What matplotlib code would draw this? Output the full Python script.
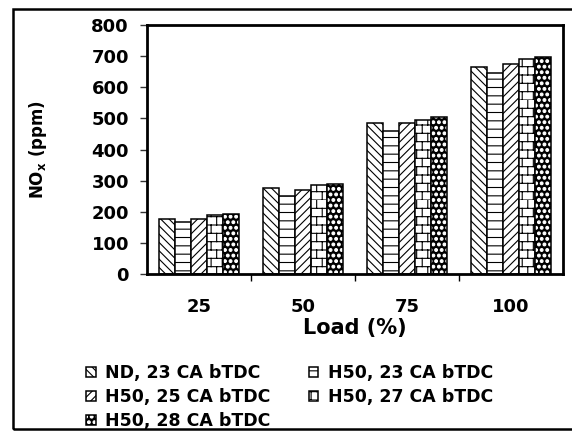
import warnings
import numpy as np
import matplotlib
matplotlib.use("Agg")
import matplotlib.pyplot as plt
import matplotlib.hatch as mhatch
from matplotlib.path import Path
from matplotlib.patches import Rectangle
from matplotlib.legend_handler import HandlerTuple

# custom hatch letters ('b' bricks, 'd' big dots) are not in the built-in set
warnings.filterwarnings("ignore", category=matplotlib.MatplotlibDeprecationWarning)

# NOx emission vs engine load
loads = ['25', '50', '75', '100']
series_names = ['ND, 23 CA bTDC', 'H50, 23 CA bTDC', 'H50, 25 CA bTDC',
                'H50, 27 CA bTDC', 'H50, 28 CA bTDC']
nd_23 = [176, 276, 485, 665]
h50_23 = [166, 252, 461, 645]
h50_25 = [176, 271, 485, 675]
h50_27 = [189, 286, 495, 690]
h50_28 = [192, 290, 504, 698]
yticks = [0, 100, 200, 300, 400, 500, 600, 700, 800]


class BrickHatch(mhatch.HatchPatternBase):
    """'b': brick wall, horizontal courses with staggered joints."""
    def __init__(self, hatch, density):
        self.rows = hatch.count('b') * density
        self.cols = max(1, self.rows * 3 // 4)
        self.num_vertices = 2 * (self.rows + self.rows * self.cols)

    def set_vertices_and_codes(self, vertices, codes):
        k = 0
        for i in range(self.rows):
            y0 = i / self.rows
            y1 = (i + 1) / self.rows
            vertices[k] = (0.0, y0)
            vertices[k + 1] = (1.0, y0)
            k += 2
            shift = 0.5 * (i % 2)
            for j in range(self.cols):
                x = (j + shift) / self.cols
                vertices[k] = (x, y0)
                vertices[k + 1] = (x, y1)
                k += 2
        codes[0::2] = Path.MOVETO
        codes[1::2] = Path.LINETO


class BigDotHatch(mhatch.Circles):
    """'d': filled dots, larger than '.'."""
    size = 0.25
    filled = True

    def __init__(self, hatch, density):
        self.num_rows = hatch.count('d') * density
        super().__init__(hatch, density)


mhatch._hatch_types.extend([BrickHatch, BigDotHatch])

plt.rcParams['font.family'] = 'DejaVu Sans'
plt.rcParams['font.weight'] = 'bold'
plt.rcParams['axes.labelweight'] = 'bold'
plt.rcParams['mathtext.default'] = 'bf'
plt.rcParams['hatch.linewidth'] = 0.8

fig = plt.figure(figsize=(5.72, 4.32), dpi=100)
ax = fig.add_axes([147 / 572, 1 - 274 / 432, 416 / 572, 249 / 432])

x = np.arange(len(loads))
w = 0.155
data = [nd_23, h50_23, h50_25, h50_27, h50_28]
hatches = ['\\\\\\\\', '--', '////', 'bb', 'ddd']
faces = ['white', 'white', 'white', 'white', 'black']
hatch_cols = ['black', 'black', 'black', 'black', 'white']
handles = []
for i, vals in enumerate(data):
    pos = x + (i - 2) * w
    # hatched fill first, black outline drawn over it
    fill = ax.bar(pos, vals, w, color=faces[i], edgecolor=hatch_cols[i],
                  hatch=hatches[i], linewidth=0)
    edge = ax.bar(pos, vals, w, fill=False, edgecolor='black', linewidth=1.1)
    handles.append((fill.patches[0], edge.patches[0]))

ax.set_xlim(-0.5, len(loads) - 0.5)
ax.set_ylim(0, 800)
ax.set_yticks(yticks)
ax.set_xticks(x)
ax.set_xticklabels(loads)
ax.set_xticks(x[:-1] + 0.5, minor=True)
ax.tick_params(axis='x', which='major', length=0, pad=17, labelsize=13)
ax.tick_params(axis='x', which='minor', length=5, width=1, direction='out')
ax.tick_params(axis='y', length=5, width=1, pad=8, labelsize=13, color='#333333')
for s in ax.spines.values():
    s.set_linewidth(2)

ax.set_xlabel('Load (%)', fontsize=15, labelpad=2)
ax.set_ylabel(r'NO$_{x}$ (ppm)', fontsize=12)
ax.yaxis.set_label_coords(-0.235, 0.5)

# legend laid out row by row in two columns; each swatch is fill + outline
order = [0, 2, 4, 1, 3]
fig.legend([handles[i] for i in order], [series_names[i] for i in order],
           handler_map={tuple: HandlerTuple(ndivide=1, pad=0)},
           loc='upper left', bbox_to_anchor=(86 / 572, 1 - 364 / 432),
           ncol=2, frameon=False, fontsize=12.5, borderpad=0,
           borderaxespad=0, handlelength=0.55, handleheight=0.55,
           handletextpad=0.55, columnspacing=2.2, labelspacing=0.35)

fig.patches.append(Rectangle((13 / 572, 3 / 432), 1.0, 1 - 12 / 432,
                             transform=fig.transFigure, fill=False,
                             edgecolor='black', linewidth=1.8))

fig.savefig('out.png', dpi=100)
